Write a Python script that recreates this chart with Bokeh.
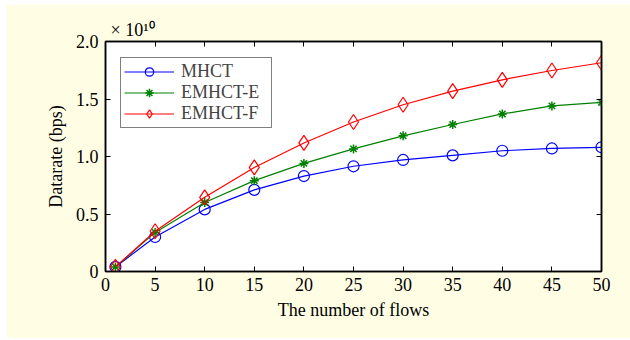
from bokeh.plotting import figure
from bokeh.models import (LinearAxis, FixedTicker, Legend, LegendItem, Title,
                          CustomJSTickFormatter, Range1d)
from bokeh.embed import file_html
from bokeh.resources import INLINE

flows = [1, 5, 10, 15, 20, 25, 30, 35, 40, 45, 50]
# datarate in units of 1e10 bps
mhct = [0.04, 0.30, 0.54, 0.71, 0.83, 0.915, 0.97, 1.01, 1.05, 1.07, 1.08]
emhct_e = [0.04, 0.34, 0.60, 0.79, 0.94, 1.066, 1.18, 1.278, 1.37, 1.44, 1.47]
emhct_f = [0.04, 0.35, 0.645, 0.905, 1.118, 1.30, 1.45, 1.568, 1.667, 1.748, 1.815]
x_ticks = [0, 5, 10, 15, 20, 25, 30, 35, 40, 45, 50]
y_ticks = [0, 0.5, 1.0, 1.5, 2.0]
scale_text = "× 10¹⁰"

FONT = "Liberation Serif"
BG = "#fffee4"

p = figure(width=624, height=334, output_backend="svg", toolbar_location=None,
           x_range=Range1d(0, 50), y_range=Range1d(0, 2.0),
           min_border_left=99, min_border_right=29, min_border_top=37,
           min_border_bottom=67, margin=(4, 0, 2, 6))
p.background_fill_color = "white"
p.border_fill_color = BG
p.outline_line_color = "black"
p.outline_line_width = 1.5
p.grid.visible = False

bottom = p.below[0]
left = p.left[0]
bottom.ticker = FixedTicker(ticks=x_ticks)
left.ticker = FixedTicker(ticks=y_ticks)
left.formatter = CustomJSTickFormatter(code="return tick == 0 ? '0' : tick.toFixed(1);")
bottom.axis_label = "The number of flows"
left.axis_label = "Datarate (bps)"

blank = CustomJSTickFormatter(code="return '';")
top = LinearAxis(ticker=FixedTicker(ticks=x_ticks), formatter=blank)
right = LinearAxis(ticker=FixedTicker(ticks=y_ticks), formatter=blank)
p.add_layout(top, "above")
p.add_layout(right, "right")

for ax in [bottom, left, top, right]:
    ax.major_tick_in = 5
    ax.major_tick_out = 0
    ax.minor_tick_line_color = None
    ax.axis_line_color = "black"
    ax.axis_line_width = 1.5
    ax.major_tick_line_color = "black"
    ax.major_label_text_font = FONT
    ax.major_label_text_color = "black"
    ax.major_label_text_font_size = "18px"
    ax.axis_label_text_font = FONT
    ax.axis_label_text_font_style = "normal"
    ax.axis_label_text_color = "black"
    ax.axis_label_text_font_size = "18px"
for ax in [top, right]:
    ax.major_label_standoff = 0
bottom.major_label_standoff = 6
bottom.axis_label_standoff = 6
left.major_label_standoff = 7
left.axis_label_standoff = 7

title = Title(text=scale_text, align="left", offset=5, standoff=4,
              text_font=FONT, text_font_size="18px", text_font_style="normal",
              text_color="black")
p.add_layout(title, "above")

r1 = p.line(flows, mhct, color="#0000ff", line_width=1.2)
m1 = p.scatter(flows, mhct, marker="circle", size=11, line_color="#0000ff",
               fill_color=None, line_width=1.2)
r2 = p.line(flows, emhct_e, color="#008000", line_width=1.2)
m2 = p.scatter(flows, emhct_e, marker="asterisk", size=9, line_color="#008000",
               line_width=1.5)
r3 = p.line(flows, emhct_f, color="#ff0000", line_width=1.2)
m3 = p.scatter(flows, emhct_f, marker="diamond", size=15, line_color="#ff0000",
               fill_color=None, line_width=1.2)

legend = Legend(items=[
    LegendItem(label="MHCT", renderers=[r1, m1]),
    LegendItem(label="EMHCT-E", renderers=[r2, m2]),
    LegendItem(label="EMHCT-F", renderers=[r3, m3]),
], location=(15, 143))
legend.label_text_font = FONT
legend.label_text_font_size = "18px"
legend.glyph_width = 50
legend.glyph_height = 21
legend.label_height = 21
legend.label_width = 87
legend.spacing = 0
legend.padding = 3
legend.label_standoff = 7
legend.border_line_color = "black"
legend.border_line_width = 1.5
legend.background_fill_color = "white"
legend.background_fill_alpha = 1
legend.margin = 0
p.add_layout(legend, "center")

open("out.html", "w").write(file_html(p, INLINE))
